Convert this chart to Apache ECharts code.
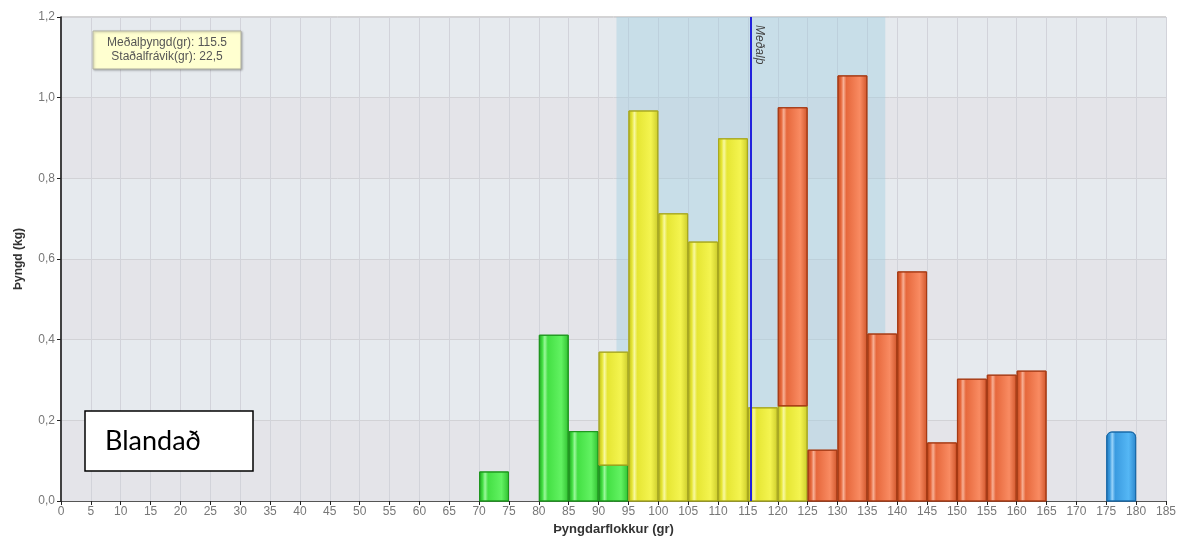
<!DOCTYPE html>
<html>
<head>
<meta charset="utf-8">
<script src="https://cdn.jsdelivr.net/npm/echarts@6/dist/echarts.min.js"></script>
<style>
html,body{margin:0;padding:0;background:#fff;}
#chart{width:1188px;height:543px;}
</style>
</head>
<body>
<div id="chart"></div>
<script>
// ---- Data ----
const binStart = [70, 75, 80, 85, 90, 95, 100, 105, 110, 115, 120, 125, 130, 135, 140, 145, 150, 155, 160, 165, 170, 175];
const binWidth = 5;
const green  = [0.072, 0, 0.411, 0.172, 0.089, 0, 0, 0, 0, 0, 0, 0, 0, 0, 0, 0, 0, 0, 0, 0, 0, 0];
const yellow = [0, 0, 0, 0, 0.280, 0.967, 0.712, 0.642, 0.898, 0.231, 0.236, 0, 0, 0, 0, 0, 0, 0, 0, 0, 0, 0];
const red    = [0, 0, 0, 0, 0, 0, 0, 0, 0, 0, 0.739, 0.126, 1.054, 0.414, 0.568, 0.144, 0.302, 0.312, 0.322, 0, 0, 0];
const blue   = [0, 0, 0, 0, 0, 0, 0, 0, 0, 0, 0, 0, 0, 0, 0, 0, 0, 0, 0, 0, 0, 0.171];
const meanWeight = 115.5;
const stdDev = 22.5;
const xTicks = {min: 0, max: 185, interval: 5};
const yTicks = {min: 0, max: 1.2, interval: 0.2};
const infoText = 'Meðalþyngd(gr): 115.5\nStaðalfrávik(gr): 22,5';
const boxText = 'Blandað';

const groups = [
  {name: 'green',  values: green,  c: ['#1c9e1c', '#9af89a', '#44e044', '#62f262', '#2fc02f'], stroke: '#1e961e', r: 0},
  {name: 'yellow', values: yellow, c: ['#b8b820', '#f8f8a0', '#e6e634', '#f4f450', '#cccc2a'], stroke: '#a8a820', r: 0},
  {name: 'red',    values: red,    c: ['#c04a1e', '#f8b095', '#e6683c', '#f98b62', '#d0552a'], stroke: '#a63a14', r: 0},
  {name: 'blue',   values: blue,   c: ['#1f78bd', '#9ad4fa', '#3a9be0', '#55b7f5', '#2b86cc'], stroke: '#1a6aa8', r: [5, 5, 0, 0]}
];

const base = binStart.map(() => 0);
const series = [];
groups.forEach((g, gi) => {
  const data = [];
  g.values.forEach((v, i) => {
    if (v > 0) {
      data.push([binStart[i], binStart[i] + binWidth, base[i], base[i] + v]);
      base[i] += v;
    }
  });
  const grad = new echarts.graphic.LinearGradient(0, 0, 1, 0, [
    {offset: 0, color: g.c[0]},
    {offset: 0.12, color: g.c[2]},
    {offset: 0.2, color: g.c[1]},
    {offset: 0.3, color: g.c[2]},
    {offset: 0.75, color: g.c[3]},
    {offset: 1, color: g.c[4]}
  ]);
  const s = {
    type: 'custom',
    name: g.name,
    z: 3,
    data: data,
    encode: {x: [0, 1], y: [2, 3]},
    renderItem: function (params, api) {
      const p0 = api.coord([api.value(0), api.value(2)]);
      const p1 = api.coord([api.value(1), api.value(3)]);
      return {
        type: 'rect',
        shape: {x: p0[0] + 0.5, y: p1[1], width: p1[0] - p0[0] - 1, height: p0[1] - p1[1], r: g.r},
        style: {fill: grad, stroke: g.stroke, lineWidth: 1}
      };
    }
  };
  if (gi === 0) {
    s.markArea = {
      silent: true,
      itemStyle: {color: 'rgba(160,205,225,0.42)'},
      data: [[{xAxis: meanWeight - stdDev}, {xAxis: meanWeight + stdDev}]]
    };
    s.markLine = {
      silent: true,
      symbol: ['none', 'none'],
      lineStyle: {color: '#2222dd', width: 2, type: 'solid'},
      label: {
        show: true,
        position: 'insideStartTop',
        formatter: 'Meðalþ',
        color: '#444',
        fontSize: 12,
        fontStyle: 'italic',
        fontFamily: 'Liberation Sans',
        distance: 2,
        padding: [0, 0, 0, 6]
      },
      data: [[{coord: [meanWeight, yTicks.max]}, {coord: [meanWeight, yTicks.min]}]],
      z: 5
    };
  }
  series.push(s);
});

const chart = echarts.init(document.getElementById('chart'));
chart.setOption({
  animation: false,
  backgroundColor: '#ffffff',
  grid: {left: 61, right: 22, top: 17, bottom: 42, show: true, borderColor: '#a8a8a8', borderWidth: 1, backgroundColor: 'transparent'},
  xAxis: {
    type: 'value',
    min: xTicks.min, max: xTicks.max, interval: xTicks.interval,
    name: 'Þyngdarflokkur (gr)',
    nameLocation: 'middle',
    nameGap: 22,
    nameTextStyle: {fontFamily: 'Liberation Sans', fontWeight: 'bold', fontSize: 13, color: '#333'},
    axisLine: {show: true, onZero: false, lineStyle: {color: '#555', width: 1}},
    axisTick: {show: true, length: 4, lineStyle: {color: '#222'}},
    axisLabel: {color: '#777', fontFamily: 'Liberation Sans', fontSize: 12, margin: 5},
    splitLine: {show: true, lineStyle: {color: '#d2d3da', width: 1}}
  },
  yAxis: {
    type: 'value',
    min: yTicks.min, max: yTicks.max, interval: yTicks.interval,
    name: 'Þyngd (kg)',
    nameLocation: 'middle',
    nameGap: 36,
    nameTextStyle: {fontFamily: 'Liberation Sans', fontWeight: 'bold', fontSize: 12, color: '#333'},
    axisLine: {show: true, lineStyle: {color: '#111', width: 1.5}},
    axisTick: {show: true, length: 4, lineStyle: {color: '#222'}},
    axisLabel: {color: '#777', fontFamily: 'Liberation Sans', fontSize: 12, margin: 6,
      formatter: v => v.toFixed(1).replace('.', ',')},
    splitLine: {show: true, lineStyle: {color: '#d2d2d6', width: 1}},
    splitArea: {show: true, areaStyle: {color: ['#e4e4e9', '#e6eaee']}}
  },
  series: series
});

chart.setOption({
  graphic: {
    elements: [
      {type: 'rect', z: 100, shape: {x: 93, y: 31, width: 148, height: 38},
        style: {fill: '#ffffd0', stroke: '#b0b0a0', lineWidth: 1, shadowBlur: 2, shadowColor: 'rgba(0,0,0,0.25)', shadowOffsetX: 1, shadowOffsetY: 1}},
      {type: 'text', z: 101, x: 167, y: 36,
        style: {text: infoText, align: 'center', textAlign: 'center', fill: '#555', fontSize: 12, fontFamily: 'Liberation Sans', lineHeight: 14}},
      {type: 'rect', z: 100, shape: {x: 85, y: 411, width: 168, height: 60},
        style: {fill: '#ffffff', stroke: '#000000', lineWidth: 1.5}},
      {type: 'text', z: 101, x: 105, y: 428,
        style: {text: boxText, fill: '#000000', fontSize: 27, fontFamily: 'Lato'}}
    ]
  }
});
</script>
</body>
</html>
